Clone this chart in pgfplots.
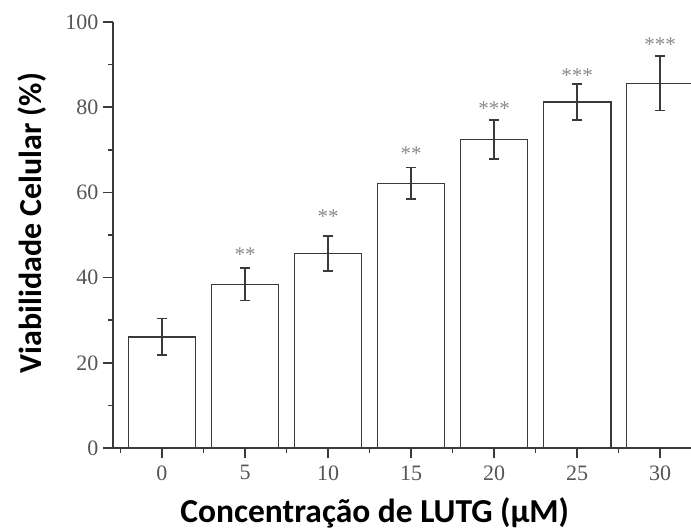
\documentclass[border=0pt]{standalone}
\usepackage{fontspec}
\setmainfont{Liberation Serif}
\newfontfamily\labelfont{Carlito}
\usepackage{pgfplots}
\pgfplotsset{compat=1.18}
\definecolor{axiscol}{HTML}{3A3A3A}
\definecolor{labelgray}{HTML}{555555}
\definecolor{astgray}{HTML}{8A8A8A}
\pgfplotstableread{
x  y     e
0  26.1  4.3
5  38.4  3.8
10 45.7  4.1
15 62.1  3.7
20 72.4  4.6
25 81.2  4.2
30 85.6  6.4
}\bardata
\pgfplotstableread{
x  y     s
5  43.7  **
10 52.6  **
15 67.4  **
20 78.0  ***
25 85.7  ***
30 93.0  ***
}\astdata
\begin{document}
\begin{tikzpicture}
\begin{axis}[
  at={(113pt,83pt)}, anchor=south west,
  scale only axis, width=597pt, height=426pt,
  xmin=-2.95, xmax=33, ymin=0, ymax=100,
  axis x line*=bottom, axis y line*=left,
  axis line style={line width=1.8pt, color=axiscol},
  xtick={0,5,...,30}, minor xtick={-2.5,2.5,...,32.5},
  ytick={0,20,...,100}, minor ytick={10,30,...,90},
  tick align=outside, major tick length=10pt, minor tick length=5pt,
  every tick/.style={line width=1.5pt, color=axiscol},
  tick label style={font=\fontsize{22}{26}\selectfont, color=labelgray},
  xticklabel style={yshift=-4pt},
  yticklabel style={xshift=-1pt},
  /pgf/number format/assume math mode=true,
  xlabel={\labelfont\bfseries Concentração de LUTG (μM)},
  xlabel style={at={(axis description cs:0.4385,-0.176)}, anchor=base, font=\fontsize{33.5}{38}\selectfont, color=black},
  ylabel={\labelfont\bfseries Viabilidade Celular (\%)},
  ylabel style={at={(axis description cs:-0.119,0.528)}, anchor=base, rotate=0, font=\fontsize{32}{36}\selectfont, color=black},
  clip=false,
]
\addplot[ybar, bar width=4.04, fill=white, draw=axiscol, line width=1.6pt,
  error bars/.cd, y dir=both, y explicit,
  error bar style={line width=1.5pt, color=axiscol},
  error mark options={rotate=90, mark size=5pt, line width=1.5pt, color=axiscol}]
  table[x=x, y=y, y error=e] {\bardata};
\addplot[draw=none, mark=none, nodes near coords, point meta=explicit symbolic,
  nodes near coords style={anchor=base, font=\fontsize{21}{24}\selectfont, color=astgray, inner sep=0pt}]
  table[x=x, y=y, meta=s] {\astdata};
\end{axis}
\pgfresetboundingbox
\path (0,0) rectangle (691pt,531pt);
\end{tikzpicture}
\end{document}
